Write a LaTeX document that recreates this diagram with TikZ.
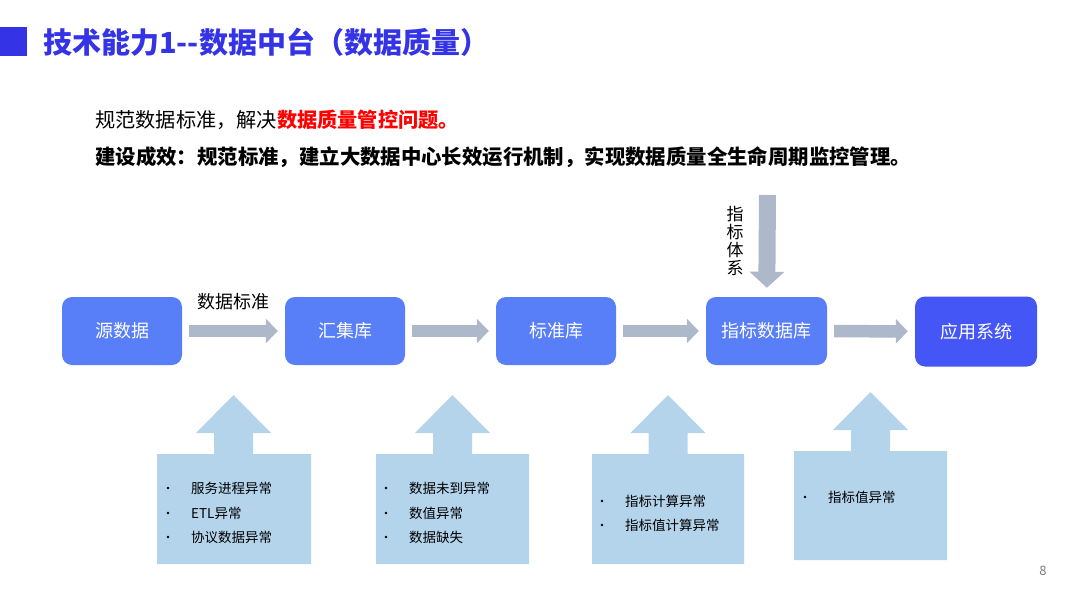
\documentclass[tikz,border=0pt]{standalone}
\usepackage{fontspec}
\setmainfont{Noto Sans CJK SC}
\usetikzlibrary{arrows.meta}

\definecolor{titleblue}{RGB}{52,52,230}
\definecolor{boxblue}{RGB}{88,126,248}
\definecolor{appblue}{RGB}{68,86,246}
\definecolor{flowgray}{RGB}{173,185,202}
\definecolor{calloutblue}{RGB}{180,212,236}

% up-pointing callout: x0, x1, top, bottom, centre of shaft
\newcommand\upcallout[5]{%
  \fill[calloutblue] (#1,#3) -- (#5-19.5,#3) -- (#5-19.5,#3-21) -- (#5-37.5,#3-21)
    -- (#5,#3-59) -- (#5+37.5,#3-21) -- (#5+19.5,#3-21) -- (#5+19.5,#3)
    -- (#2,#3) -- (#2,#4) -- (#1,#4) -- cycle;}

\begin{document}
\begin{tikzpicture}
  [x=1pt,y=-1pt,
   stage/.style={rectangle,rounded corners=10pt,fill=boxblue,text=white,
     minimum width=120pt,minimum height=68pt,font=\fontsize{18}{18}\selectfont},
   flow/.style={draw=flowgray,line width=12.5pt,shorten <=7pt,shorten >=7pt,
     -{Triangle[width=24pt,length=12pt]}},
   item/.style={anchor=west,inner sep=0pt,font=\fontsize{13.5}{13.5}\selectfont},
   dot/.style={circle,fill=black,inner sep=0pt,minimum size=2.6pt},
   txt/.style={anchor=west,inner sep=0pt}]
  \useasboundingbox (0,0) rectangle (1080,608);

  % title
  \fill[titleblue] (0,27) rectangle (27,56);
  \node[txt,text=titleblue,font=\fontsize{29}{29}\selectfont\bfseries] (title) at (43,42)
    {技术能力1-{}-数据中台（数据质量）};
  \node[txt,font=\fontsize{20.2}{20.2}\selectfont] (goal) at (95,120)
    {规范数据标准，解决\textcolor{red}{\bfseries 数据质量管控问题。}};
  \node[txt,font=\fontsize{20.4}{20.4}\selectfont\bfseries] (effect) at (95,157)
    {建设成效：规范标准，建立大数据中心长效运行机制，实现数据质量全生命周期监控管理。};

  % stages
  \node[stage] (src) at (122,331) {源数据};
  \node[stage] (hub) at (345,331) {汇集库};
  \node[stage] (std) at (556,331) {标准库};
  \node[stage,minimum width=121pt] (kpidb) at (766.5,331) {指标数据库};
  \node[stage,fill=appblue,minimum width=122pt,minimum height=70pt] (app) at (976,331.5) {应用系统};

  \draw[flow] (src) -- (hub);
  \draw[flow] (hub) -- (std);
  \draw[flow] (std) -- (kpidb);
  \draw[flow] (kpidb) -- (app);
  \node[inner sep=0pt,font=\fontsize{18}{18}\selectfont] (stdlabel) at (233.5,302) {数据标准};

  \coordinate (kpitop) at (767.5,195);
  \draw[flow,line width=17pt,shorten <=0pt,shorten >=9pt,
    -{Triangle[width=34pt,length=16pt]}] (kpitop) -- (kpidb);
  \node[inner sep=0pt,align=center,font=\fontsize{17}{17.8}\selectfont] (kpilabel) at (735,241)
    {指\\标\\体\\系};

  % checks
  \upcallout{157}{311}{454}{564}{233.5}
  \upcallout{376}{529}{454}{564}{452.5}
  \upcallout{592}{744}{454}{564}{668}
  \upcallout{794}{947}{451}{560}{870.5}

  \node[dot] (b1) at (168,488) {}; \node[item] (t1) at (191,488) {服务进程异常};
  \node[dot] (b2) at (168,513) {}; \node[item] (t2) at (191,513) {ETL异常};
  \node[dot] (b3) at (168,537) {}; \node[item] (t3) at (191,537) {协议数据异常};

  \node[dot] (b4) at (386,488) {}; \node[item] (t4) at (409,488) {数据未到异常};
  \node[dot] (b5) at (386,513) {}; \node[item] (t5) at (409,513) {数值异常};
  \node[dot] (b6) at (386,537) {}; \node[item] (t6) at (409,537) {数据缺失};

  \node[dot] (b7) at (602,501) {}; \node[item] (t7) at (625,501) {指标计算异常};
  \node[dot] (b8) at (602,525) {}; \node[item] (t8) at (625,525) {指标值计算异常};

  \node[dot] (b9) at (805,497) {}; \node[item] (t9) at (828,497) {指标值异常};

  \node[inner sep=0pt,text=gray,font=\fontsize{13}{13}\selectfont] (page) at (1043,571) {8};
\end{tikzpicture}
\end{document}
